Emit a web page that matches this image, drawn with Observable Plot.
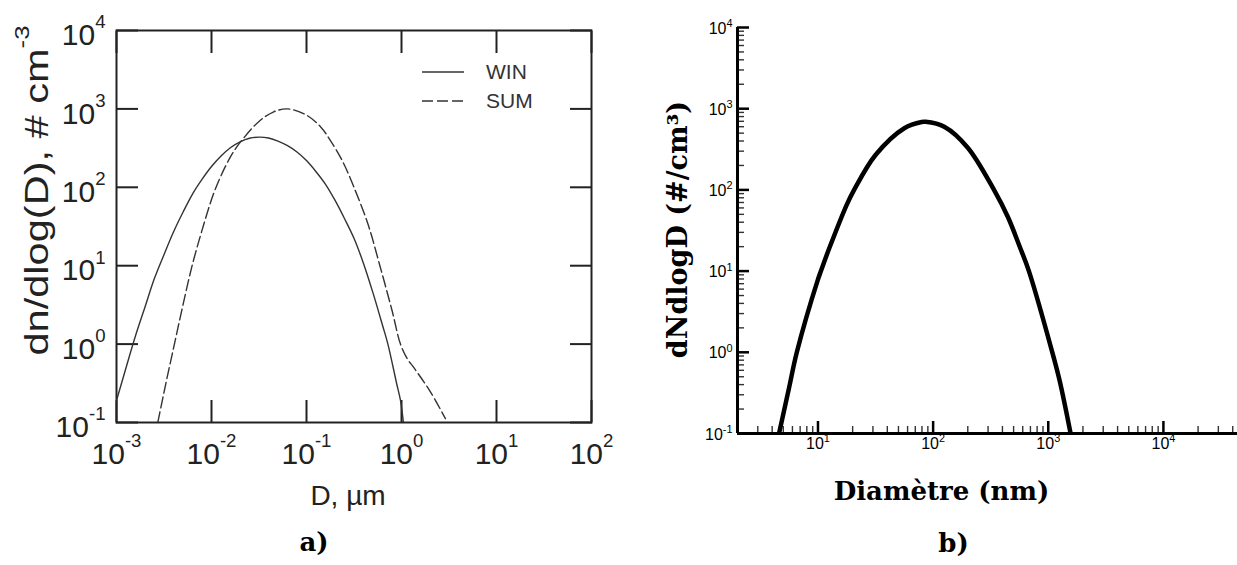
<!DOCTYPE html>
<html>
<head>
<meta charset="utf-8">
<script src="https://cdn.jsdelivr.net/npm/d3@7"></script>
<script src="https://cdn.jsdelivr.net/npm/@observablehq/plot@0.6"></script>
<style>
  html, body { margin: 0; padding: 0; background: #fff; }
  #wrap { position: relative; width: 1237px; height: 565px; overflow: hidden; }
  #panelA, #panelB { position: absolute; top: 0; }
  #panelA { left: 0; }
  #panelB { left: 620px; }
  #legend { position: absolute; left: 422px; top: 57px; font-family: "Liberation Sans", Arial, sans-serif; font-size: 21px; color: #333; }
  #legend .row { display: flex; align-items: center; height: 29px; }
  #legend svg { margin-right: 22px; }
</style>
</head>
<body>
<div id="wrap">
  <div id="panelA"></div>
  <div id="panelB"></div>
  <div id="legend"></div>
</div>
<script>
// ---------- Panel a) data (D in µm, dn/dlog(D) in # cm^-3) ----------
const winD = [0.001, 0.00126, 0.00158, 0.002, 0.00251, 0.00316, 0.00398, 0.00501, 0.00631, 0.00794, 0.01, 0.0126, 0.0158, 0.02, 0.0251, 0.0316, 0.0398, 0.0501, 0.0631, 0.0794, 0.1, 0.126, 0.158, 0.2, 0.251, 0.316, 0.398, 0.501, 0.631, 0.719, 0.891, 0.977, 1.047];
const winN = [0.19, 0.50, 1.26, 3.0, 6.9, 13.8, 26.9, 48, 82, 126, 184, 251, 320, 380, 422, 436, 425, 389, 339, 282, 219, 158, 110, 68, 40, 22.4, 10.7, 4.5, 1.74, 1.0, 0.31, 0.19, 0.1];
const sumD = [0.00272, 0.00331, 0.00407, 0.00501, 0.00625, 0.00794, 0.0106, 0.0138, 0.0174, 0.0219, 0.0316, 0.0447, 0.0631, 0.1, 0.141, 0.178, 0.24, 0.316, 0.447, 0.592, 0.794, 0.975, 1.15, 1.35, 2.0, 2.9];
const sumN = [0.1, 0.316, 1.0, 3.16, 10, 28.2, 85, 178, 295, 427, 692, 912, 1000, 832, 589, 398, 214, 100, 33, 10, 2.7, 1.0, 0.65, 0.5, 0.25, 0.112];
const seriesA = ["WIN", "SUM"];
const dashA = [null, "11,4"];
const xExpA = [-3, -2, -1, 0, 1, 2];
const yExpA = [-1, 0, 1, 2, 3, 4];

// ---------- Panel b) data (diameter in nm, dNdlogD in #/cm3) ----------
const diamB = [4.59, 5.62, 6.55, 10, 10.6, 12.6, 17.8, 20.6, 31.6, 56.2, 79.4, 86, 126, 200, 338, 447, 562, 679, 1084, 1259, 1563];
const dndB  = [0.1, 0.37, 1.0, 7.9, 10, 19.5, 66, 100, 269, 575, 685, 689, 596, 331, 100, 46, 20.4, 10, 1.0, 0.44, 0.1];
const xExpB = [1, 2, 3, 4];
const yExpB = [-1, 0, 1, 2, 3, 4];
const xDomainB = [2, 44000];

const tableA = [
  ...winD.map((d, i) => ({D: d, n: winN[i], s: "WIN"})),
  ...sumD.map((d, i) => ({D: d, n: sumN[i], s: "SUM"}))
];
const tableB = diamB.map((d, i) => ({D: d, n: dndB[i]}));

function minorTicks(lo, hi) {
  const out = [];
  for (let e = Math.floor(Math.log10(lo)); e <= Math.ceil(Math.log10(hi)); e++)
    for (let m = 2; m <= 9; m++) { const v = m * 10 ** e; if (v > lo && v < hi) out.push(v); }
  return out;
}

const sans = "'Liberation Sans', Arial, sans-serif";
const serif = "'DejaVu Serif', serif";
const inkA = "#222";

// ---------- Panel a) ----------
const chartA = Plot.plot({
  width: 620, height: 565,
  marginLeft: 116, marginRight: 29, marginTop: 30, marginBottom: 143,
  x: {type: "log", domain: [1e-3, 1e2]},
  y: {type: "log", domain: [0.1, 1e4]},
  style: {fontFamily: sans, color: inkA, background: "transparent", overflow: "visible"},
  marks: [
    Plot.axisX(xExpA.map(e => 10 ** e), {anchor: "bottom", tickSize: 22, dy: -22, fill: "none", stroke: inkA, strokeWidth: 2, label: null}),
    Plot.axisX(xExpA.map(e => 10 ** e), {anchor: "top", tickSize: 22, dy: 22, fill: "none", stroke: inkA, strokeWidth: 2, label: null}),
    Plot.axisY(yExpA.map(e => 10 ** e), {anchor: "left", tickSize: 22, dx: 22, fill: "none", stroke: inkA, strokeWidth: 2, label: null}),
    Plot.axisY(yExpA.map(e => 10 ** e), {anchor: "right", tickSize: 22, dx: -22, fill: "none", stroke: inkA, strokeWidth: 2, label: null}),
    Plot.frame({stroke: inkA, strokeWidth: 2}),
    Plot.line(tableA.filter(d => d.s === "WIN"), {x: "D", y: "n", stroke: "#333", strokeWidth: 1.4, curve: "catmull-rom", clip: true}),
    Plot.line(tableA.filter(d => d.s === "SUM"), {x: "D", y: "n", stroke: "#333", strokeWidth: 1.4, strokeDasharray: "11,4", curve: "catmull-rom", clip: true}),
    Plot.text(xExpA, {x: e => 10 ** e, frameAnchor: "bottom", dy: 41, text: e => "10^" + e, fontSize: 30, textAnchor: "middle"}),
    Plot.text(yExpA, {y: e => 10 ** e, frameAnchor: "left", dx: -11, dy: 5, text: e => "10^" + e, fontSize: 30, textAnchor: "end"}),
    Plot.text(["D, µm"], {frameAnchor: "bottom", dx: -6, dy: 82, fontSize: 28, textAnchor: "middle"}),
    Plot.text(["dn/dlog(D), # cm^-3"], {frameAnchor: "left", dx: -79, dy: -36, rotate: -90, fontSize: 34, textAnchor: "middle"}),
    Plot.text(["a)"], {frameAnchor: "bottom", dx: -40, dy: 128, fontSize: 26, fontWeight: "bold", fontFamily: serif, fill: "#000", textAnchor: "middle"})
  ]
});

// ---------- Panel b) ----------
const majorB = xExpB.map(e => 10 ** e);
const chartB = Plot.plot({
  width: 617, height: 565,
  marginLeft: 117, marginRight: 0, marginTop: 27, marginBottom: 132,
  x: {type: "log", domain: xDomainB},
  y: {type: "log", domain: [0.1, 1e4]},
  style: {fontFamily: sans, color: "#000", background: "transparent", overflow: "visible"},
  marks: [
    Plot.axisX(minorTicks(xDomainB[0], xDomainB[1]), {anchor: "bottom", tickSize: 7, dy: -7, fill: "none", stroke: "#333", strokeWidth: 1.4, label: null}),
    Plot.axisX(majorB, {anchor: "bottom", tickSize: 12, dy: -12, fill: "none", stroke: "#000", strokeWidth: 2.5, label: null}),
    Plot.axisY(minorTicks(0.1, 1e4), {anchor: "left", tickSize: 7, dx: 7, fill: "none", stroke: "#333", strokeWidth: 1.4, label: null}),
    Plot.axisY(yExpB.map(e => 10 ** e), {anchor: "left", tickSize: 12, dx: 12, fill: "none", stroke: "#000", strokeWidth: 2.5, label: null}),
    Plot.ruleX([xDomainB[0]], {stroke: "#000", strokeWidth: 3}),
    Plot.ruleY([0.1], {stroke: "#000", strokeWidth: 3}),
    Plot.line(tableB, {x: "D", y: "n", stroke: "#000", strokeWidth: 4.5, curve: "catmull-rom", clip: true}),
    Plot.text(xExpB, {x: e => 10 ** e, frameAnchor: "bottom", dy: 15, text: e => "10^" + e, fontSize: 16, textAnchor: "middle"}),
    Plot.text(yExpB, {y: e => 10 ** e, frameAnchor: "left", dx: -5, dy: 1, text: e => "10^" + e, fontSize: 16, textAnchor: "end"}),
    Plot.text(["Diamètre (nm)"], {frameAnchor: "bottom", dx: -46, dy: 66, fontSize: 26, fontWeight: "bold", fontFamily: serif, textAnchor: "middle"}),
    Plot.text(["dNdlogD (#/cm³)"], {frameAnchor: "left", dx: -59, dy: -1, rotate: -90, fontSize: 27, fontWeight: "bold", fontFamily: serif, textAnchor: "middle"}),
    Plot.text(["b)"], {frameAnchor: "bottom", dx: -34, dy: 118, fontSize: 26, fontWeight: "bold", fontFamily: serif, textAnchor: "middle"})
  ]
});

document.getElementById("panelA").appendChild(chartA);
document.getElementById("panelB").appendChild(chartB);

// Turn "base^exp" text into base + raised exponent tspans
function superscripts(svg, ratio, raise) {
  svg.querySelectorAll("text").forEach(t => {
    if (t.querySelector("tspan")) return;
    const s = t.textContent;
    if (!s.includes("^")) return;
    const [base, exp] = s.split("^");
    const fs = parseFloat(getComputedStyle(t).fontSize) || 16;
    t.textContent = "";
    const ns = "http://www.w3.org/2000/svg";
    const b = document.createElementNS(ns, "tspan");
    b.textContent = base;
    const x = document.createElementNS(ns, "tspan");
    x.textContent = exp;
    x.setAttribute("font-size", (fs * ratio).toFixed(1));
    x.setAttribute("dy", (-fs * raise).toFixed(1));
    t.appendChild(b);
    t.appendChild(x);
  });
}
superscripts(chartA, 0.62, 0.56);
superscripts(chartB, 0.68, 0.42);

// stretch the long y title of panel a) along its length, like the reference
chartA.querySelectorAll("text").forEach(t => {
  if (t.textContent.startsWith("dn/dlog")) {
    t.setAttribute("textLength", "330");
    t.setAttribute("lengthAdjust", "spacingAndGlyphs");
  }
});

// Legend inside panel a)
const legend = document.getElementById("legend");
seriesA.forEach((name, i) => {
  const row = document.createElement("div");
  row.className = "row";
  const dash = dashA[i] ? ` stroke-dasharray="${dashA[i]}"` : "";
  row.innerHTML = `<svg width="42" height="6"><line x1="0" y1="3" x2="42" y2="3" stroke="#333" stroke-width="1.6"${dash}/></svg><span>${name}</span>`;
  legend.appendChild(row);
});
</script>
</body>
</html>
